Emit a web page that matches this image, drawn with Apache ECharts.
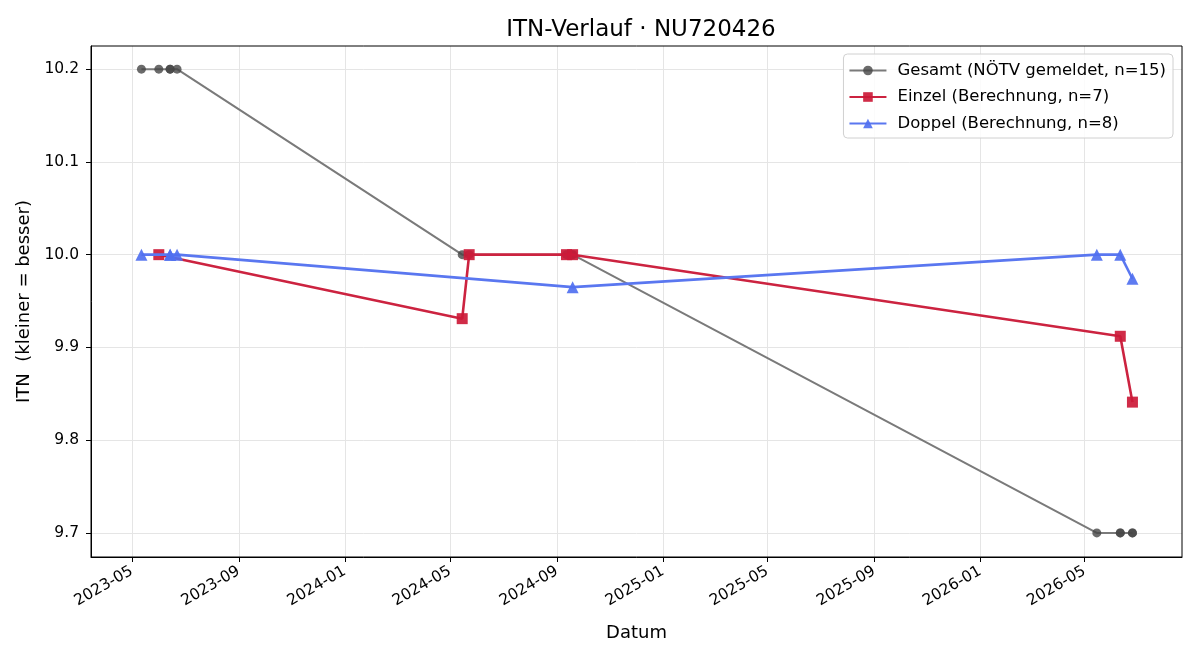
<!DOCTYPE html>
<html>
<head>
<meta charset="utf-8">
<script src="https://cdn.jsdelivr.net/npm/echarts@6/dist/echarts.min.js"></script>
<style>
  html, body { margin: 0; padding: 0; background: #fff; }
  #chart { width: 1200px; height: 660px; }
</style>
</head>
<body>
<div id="chart"></div>
<script>
// Gesamt (NÖTV gemeldet)
var gesamtDates = ['2023-05-12', '2023-06-01', '2023-06-14', '2023-06-14', '2023-06-22',
  '2024-05-15', '2024-05-23', '2024-09-12', '2024-09-19', '2024-09-19',
  '2026-05-15', '2026-06-11', '2026-06-11', '2026-06-25', '2026-06-25'];
var gesamtValues = [10.2, 10.2, 10.2, 10.2, 10.2, 10.0, 10.0, 10.0, 10.0, 10.0, 9.7, 9.7, 9.7, 9.7, 9.7];
// Einzel (Berechnung)
var einzelDates = ['2023-06-01', '2024-05-15', '2024-05-23', '2024-09-12', '2024-09-19', '2026-06-11', '2026-06-25'];
var einzelValues = [10.0, 9.931, 10.0, 10.0, 10.0, 9.912, 9.841];
// Doppel (Berechnung)
var doppelDates = ['2023-05-12', '2023-06-14', '2023-06-14', '2023-06-22', '2024-09-19', '2026-05-15', '2026-06-11', '2026-06-25'];
var doppelValues = [10.0, 10.0, 10.0, 10.0, 9.965, 10.0, 10.0, 9.974];
// Achsenbeschriftung
var xTickDates = ['2023-05-01', '2023-09-01', '2024-01-01', '2024-05-01', '2024-09-01',
  '2025-01-01', '2025-05-01', '2025-09-01', '2026-01-01', '2026-05-01'];
var yTicks = [9.7, 9.8, 9.9, 10.0, 10.1, 10.2];

function ts(s) {
  return Date.UTC(+s.slice(0, 4), +s.slice(5, 7) - 1, +s.slice(8, 10));
}
function pairs(dates, vals) {
  var out = [];
  for (var i = 0; i < dates.length; i++) {
    out.push([ts(dates[i]), vals[i]]);
  }
  return out;
}
function pad(n) { return n < 10 ? '0' + n : '' + n; }

var font = 'DejaVu Sans';
var xTicks = xTickDates.map(ts);

var chart = echarts.init(document.getElementById('chart'));
var option = {
  animation: false,
  textStyle: { fontFamily: font },
  title: {
    text: 'ITN-Verlauf · NU720426',
    left: 636,
    textAlign: 'center',
    top: 14,
    textStyle: { fontFamily: font, fontSize: 23, fontWeight: 'normal', color: '#000' }
  },
  legend: {
    orient: 'vertical',
    right: 27,
    top: 54,
    padding: [8, 7, 6, 5],
    itemGap: 9.5,
    itemWidth: 37,
    itemHeight: 12,
    backgroundColor: 'rgba(255,255,255,0.85)',
    borderColor: '#d0d0d0',
    borderWidth: 1,
    borderRadius: 4,
    textStyle: { fontFamily: font, fontSize: 16.5, color: '#000', padding: [0, 0, 0, 6] },
    data: ['Gesamt (NÖTV gemeldet, n=15)', 'Einzel (Berechnung, n=7)', 'Doppel (Berechnung, n=8)']
  },
  grid: { left: 91, right: 18, top: 46, bottom: 103, containLabel: false },
  xAxis: {
    type: 'value',
    scale: true,
    min: ts('2023-03-15'),
    max: ts('2026-08-21'),
    name: 'Datum',
    nameLocation: 'middle',
    nameGap: 67,
    nameTextStyle: { fontFamily: font, fontSize: 18, color: '#000' },
    axisLine: { onZero: false, lineStyle: { color: '#000', width: 1 } },
    axisTick: { show: true, length: 5, customValues: xTicks, lineStyle: { color: '#000' } },
    axisLabel: {
      customValues: xTicks,
      rotate: 30,
      fontFamily: font,
      fontSize: 15.5,
      color: '#000',
      margin: 13,
      formatter: function (v) {
        var d = new Date(v);
        return d.getUTCFullYear() + '-' + pad(d.getUTCMonth() + 1);
      }
    },
    splitLine: { show: true, lineStyle: { color: '#e5e5e5', width: 1 } }
  },
  yAxis: {
    type: 'value',
    min: 9.674,
    max: 10.225,
    name: 'ITN  (kleiner = besser)',
    nameLocation: 'middle',
    nameGap: 56,
    nameTextStyle: { fontFamily: font, fontSize: 18, color: '#000' },
    axisLine: { show: true, lineStyle: { color: '#000', width: 1 } },
    axisTick: { show: true, length: 5, customValues: yTicks, lineStyle: { color: '#000' } },
    axisLabel: {
      customValues: yTicks,
      fontFamily: font,
      fontSize: 15.5,
      color: '#000',
      margin: 12,
      formatter: function (v) { return v.toFixed(1); }
    },
    splitLine: { show: true, lineStyle: { color: '#e5e5e5', width: 1 } }
  },
  series: [
    {
      name: 'Gesamt (NÖTV gemeldet, n=15)',
      type: 'line',
      data: pairs(gesamtDates, gesamtValues),
      symbol: 'circle',
      symbolSize: 9,
      z: 2,
      lineStyle: { color: '#7a7a7a', width: 2 },
      itemStyle: { color: 'rgba(70,70,70,0.8)' }
    },
    {
      name: 'Einzel (Berechnung, n=7)',
      type: 'line',
      data: pairs(einzelDates, einzelValues),
      symbol: 'rect',
      symbolSize: 11,
      z: 3,
      lineStyle: { color: '#cc2340', width: 2.6 },
      itemStyle: { color: 'rgba(204,26,56,0.92)' }
    },
    {
      name: 'Doppel (Berechnung, n=8)',
      type: 'line',
      data: pairs(doppelDates, doppelValues),
      symbol: 'triangle',
      symbolSize: 12,
      z: 4,
      lineStyle: { color: '#5a77f0', width: 2.6 },
      itemStyle: { color: 'rgba(80,112,240,0.92)' }
    }
  ]
};
chart.setOption(option);

// Rahmen oben/rechts wie bei matplotlib
var gr = chart.getModel().getComponent('grid').coordinateSystem.getRect();
chart.setOption({
  graphic: [{
    type: 'rect',
    silent: true,
    z: 0,
    shape: { x: gr.x, y: gr.y, width: gr.width, height: gr.height },
    style: { fill: 'none', stroke: '#000', lineWidth: 1 }
  }]
});
</script>
</body>
</html>
